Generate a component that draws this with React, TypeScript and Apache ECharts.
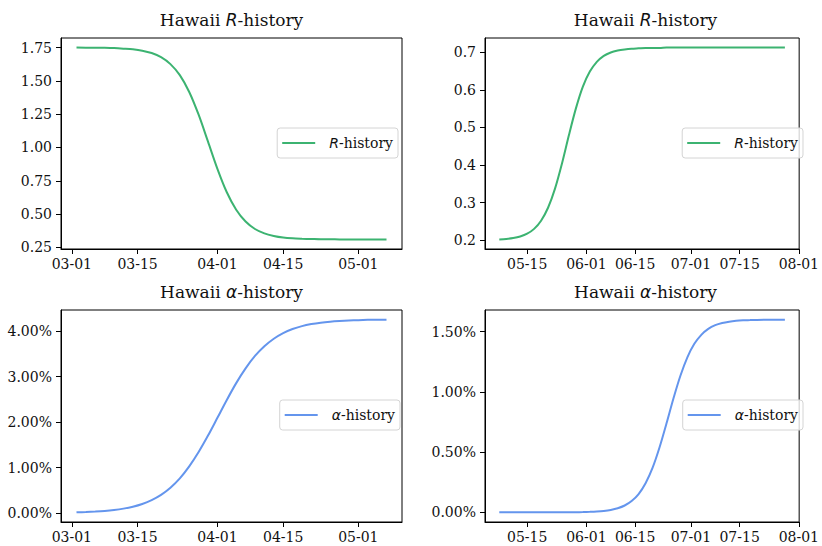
import React, { useEffect, useRef } from "react";
import * as echarts from "echarts";

// ---------- data ----------
const datesA = [
  "03-02", "03-04", "03-06", "03-08", "03-10", "03-12", "03-14", "03-16", "03-18", "03-20",
  "03-22", "03-24", "03-26", "03-28", "03-30", "04-01", "04-03", "04-05", "04-07", "04-09",
  "04-11", "04-13", "04-15", "04-17", "04-19", "04-21", "04-23", "04-25", "04-27", "04-29",
  "05-01", "05-03", "05-05", "05-07",
];
const rHistoryA = [
  1.750, 1.749, 1.749, 1.748, 1.746, 1.742, 1.737, 1.727, 1.709, 1.678,
  1.626, 1.543, 1.417, 1.246, 1.044, 0.840, 0.664, 0.533, 0.444, 0.388,
  0.355, 0.336, 0.324, 0.318, 0.315, 0.313, 0.311, 0.311, 0.310, 0.310,
  0.310, 0.310, 0.310, 0.310,
];
const alphaHistoryA = [
  0.00016, 0.00023, 0.00033, 0.00047, 0.00068, 0.00098, 0.0014, 0.002, 0.00285, 0.004,
  0.00557, 0.00762, 0.01026, 0.01342, 0.01704, 0.02095, 0.02488, 0.02858, 0.03182, 0.03455,
  0.03668, 0.03834, 0.03958, 0.04047, 0.04111, 0.04156, 0.04188, 0.0421, 0.04225, 0.04236,
  0.04243, 0.04249, 0.04252, 0.04254,
];

const datesB = [
  "05-07", "05-09", "05-11", "05-13", "05-15", "05-17", "05-19", "05-21", "05-23", "05-25",
  "05-27", "05-29", "05-31", "06-02", "06-04", "06-06", "06-08", "06-10", "06-12", "06-14",
  "06-16", "06-18", "06-20", "06-22", "06-24", "06-26", "06-28", "06-30", "07-02", "07-04",
  "07-06", "07-08", "07-10", "07-12", "07-14", "07-16", "07-18", "07-20", "07-22", "07-24",
  "07-26", "07-28",
];
const rHistoryB = [
  0.2016, 0.2029, 0.2053, 0.2095, 0.2168, 0.2297, 0.2515, 0.286, 0.337, 0.404,
  0.48, 0.551, 0.609, 0.649, 0.675, 0.691, 0.7, 0.705, 0.708, 0.71,
  0.711, 0.712, 0.712, 0.712, 0.713, 0.713, 0.713, 0.713, 0.713, 0.713,
  0.713, 0.713, 0.713, 0.713, 0.713, 0.713, 0.713, 0.713, 0.713, 0.713,
  0.713, 0.713,
];
const alphaHistoryB = [
  0, 0, 0, 0, 0, 0, 0.000001, 0.000002, 0.000003, 0.000005,
  0.000009, 0.000015, 0.000025, 0.000043, 0.000072, 0.000121, 0.000204, 0.000342, 0.00057, 0.00094,
  0.00152, 0.00242, 0.00369, 0.00538, 0.00737, 0.00945, 0.01134, 0.01287, 0.01399, 0.01474,
  0.01523, 0.01554, 0.01572, 0.01583, 0.0159, 0.01594, 0.01596, 0.01598, 0.01599, 0.01599,
  0.016, 0.016,
];

const xTicksA = ["03-01", "03-15", "04-01", "04-15", "05-01"];
const xTicksB = ["05-15", "06-01", "06-15", "07-01", "07-15", "08-01"];
const rTicksA = [0.25, 0.5, 0.75, 1.0, 1.25, 1.5, 1.75];
const rTicksB = [0.2, 0.3, 0.4, 0.5, 0.6, 0.7];
const alphaTicksA = [0, 0.01, 0.02, 0.03, 0.04];
const alphaTicksB = [0, 0.005, 0.01, 0.015];

// ---------- helpers ----------
const FONT = "'DejaVu Serif', serif";
const MATH = "'DejaVu Sans', sans-serif";
const GREEN = "#3cb371";
const BLUE = "#6495ed";
const TEXT = "#111";

const ts = (md: string) => {
  const [m, d] = md.split("-").map(Number);
  return Date.UTC(2020, m - 1, d);
};
const fmtMD = (v: number) => {
  const d = new Date(v);
  return (
    String(d.getUTCMonth() + 1).padStart(2, "0") + "-" + String(d.getUTCDate()).padStart(2, "0")
  );
};
const range = (dates: string[]) => {
  const a = ts(dates[0]);
  const b = ts(dates[dates.length - 1]);
  const m = (b - a) * 0.05;
  return [a - m, b + m];
};
const yRange = (vals: number[]) => {
  const a = Math.min(...vals);
  const b = Math.max(...vals);
  const m = (b - a) * 0.05;
  return [a - m, b + m];
};

export default function App() {
  const ref = useRef<HTMLDivElement>(null);

  useEffect(() => {
    if (!ref.current) return;
    const chart = echarts.init(ref.current, undefined, { renderer: "svg" });

    const grids = [
      { left: 61, top: 38, width: 341, height: 211 },
      { left: 485, top: 38, width: 321, height: 211 },
      { left: 61, top: 310, width: 341, height: 212 },
      { left: 485, top: 310, width: 321, height: 212 },
    ];

    const panels = [
      { dates: datesA, vals: rHistoryA, xt: xTicksA, yt: rTicksA, color: GREEN, name: "R-history", fmt: (v: number) => v.toFixed(2) },
      { dates: datesB, vals: rHistoryB, xt: xTicksB, yt: rTicksB, color: GREEN, name: "R-history", fmt: (v: number) => v.toFixed(1) },
      { dates: datesA, vals: alphaHistoryA, xt: xTicksA, yt: alphaTicksA, color: BLUE, name: "α-history", fmt: (v: number) => (v * 100).toFixed(2) + "%" },
      { dates: datesB, vals: alphaHistoryB, xt: xTicksB, yt: alphaTicksB, color: BLUE, name: "α-history", fmt: (v: number) => (v * 100).toFixed(2) + "%" },
    ];

    const axisCommon = {
      axisLine: { show: true, onZero: false, lineStyle: { color: "#000", width: 1 } },
      splitLine: { show: false },
    };

    const xAxis = panels.map((p, i) => {
      const [mn, mx] = range(p.dates);
      const tv = p.xt.map(ts);
      return {
        type: "value",
        gridIndex: i,
        min: mn,
        max: mx,
        ...axisCommon,
        axisTick: { show: true, length: 5, inside: false, lineStyle: { color: "#000" }, customValues: tv },
        axisLabel: {
          customValues: tv,
          formatter: (v: number) => fmtMD(v),
          fontFamily: FONT,
          fontSize: 14,
          color: TEXT,
          margin: 8,
        },
      };
    });

    const yAxis = panels.map((p, i) => {
      const [mn, mx] = yRange(p.vals);
      return {
        type: "value",
        gridIndex: i,
        min: mn,
        max: mx,
        ...axisCommon,
        axisTick: { show: true, length: 5, inside: false, lineStyle: { color: "#000" }, customValues: p.yt },
        axisLabel: {
          customValues: p.yt,
          formatter: (v: number) => p.fmt(v),
          fontFamily: FONT,
          fontSize: 14,
          color: TEXT,
          margin: 9,
        },
      };
    });

    const series = panels.map((p, i) => ({
      type: "line",
      name: p.name,
      xAxisIndex: i,
      yAxisIndex: i,
      data: p.dates.map((d, k) => [ts(d), p.vals[k]]),
      showSymbol: false,
      symbol: "none",
      smooth: 0.3,
      lineStyle: { color: p.color, width: 2 },
      itemStyle: { color: p.color },
    }));

    const titleTops = [11, 11, 283, 283];
    const title = panels.map((p, i) => ({
      text: p.name === "R-history" ? "Hawaii {i|R}-history" : "Hawaii {i|α}-history",
      left: grids[i].left + grids[i].width / 2,
      top: titleTops[i],
      textAlign: "center",
      padding: 0,
      textStyle: {
        fontFamily: FONT,
        fontSize: 17,
        fontWeight: "normal",
        color: TEXT,
        rich: { i: { fontFamily: MATH, fontStyle: "italic", fontSize: 17, color: TEXT } },
      },
    }));

    const legendRight = [424, 19, 422, 19];
    const legendTop = [128, 128, 400, 400];
    const legend = panels.map((p, i) => ({
      data: [p.name],
      right: legendRight[i],
      top: legendTop[i],
      orient: "vertical",
      selectedMode: false,
      icon: "rect",
      itemWidth: 33,
      itemHeight: 2,
      padding: [7, 5, 7, 5],
      backgroundColor: "rgba(255,255,255,0.8)",
      borderColor: "#d4d4d4",
      borderWidth: 1,
      borderRadius: 3,
      formatter: (name: string) =>
        name === "R-history" ? "{s| }{i|R}-history" : "{s| }{i|α}-history",
      textStyle: {
        fontFamily: FONT,
        fontSize: 14,
        lineHeight: 16,
        color: TEXT,
        rich: {
          i: { fontFamily: MATH, fontStyle: "italic", fontSize: 14, color: TEXT, lineHeight: 16 },
          s: { width: 9, fontSize: 14, lineHeight: 16 },
        },
      },
    }));

    chart.setOption({
      animation: false,
      backgroundColor: "#ffffff",
      title,
      legend,
      grid: grids.map((g) => ({ ...g, show: true, borderColor: "#000", borderWidth: 1, backgroundColor: "transparent" })),
      xAxis,
      yAxis,
      series,
    } as any);

    return () => chart.dispose();
  }, []);

  return (
    <div
      ref={ref}
      style={{ position: "fixed", left: 0, top: 0, width: 822, height: 546, background: "#fff" }}
    />
  );
}
